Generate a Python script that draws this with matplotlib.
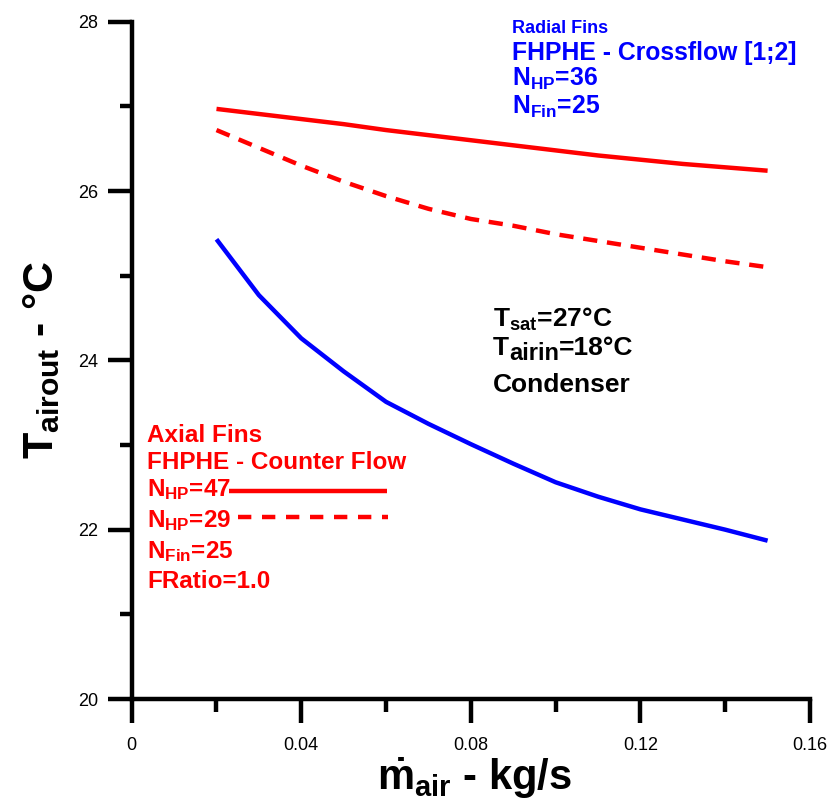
import matplotlib
matplotlib.use("Agg")
import matplotlib.pyplot as plt
from matplotlib.lines import Line2D
from matplotlib.ticker import MultipleLocator

plt.rcParams['font.family'] = ['Liberation Sans', 'DejaVu Sans']
plt.rcParams['mathtext.fontset'] = 'custom'
plt.rcParams['mathtext.rm'] = 'Liberation Sans:bold'
plt.rcParams['mathtext.it'] = 'Liberation Sans:bold'
plt.rcParams['mathtext.bf'] = 'Liberation Sans:bold'

# ---- data ----
m_air = [0.02, 0.03, 0.04, 0.05, 0.06, 0.07, 0.08, 0.09, 0.10, 0.11, 0.12, 0.13, 0.14, 0.15]
axial_nhp47 = [26.97, 26.91, 26.85, 26.79, 26.72, 26.66, 26.60, 26.54, 26.48, 26.42, 26.37, 26.32, 26.28, 26.24]
axial_nhp29 = [26.72, 26.51, 26.30, 26.11, 25.94, 25.79, 25.67, 25.59, 25.49, 25.41, 25.33, 25.25, 25.17, 25.10]
radial_nhp36 = [25.43, 24.77, 24.26, 23.87, 23.51, 23.25, 23.01, 22.78, 22.56, 22.39, 22.24, 22.12, 22.00, 21.87]

x_ticks = [0, 0.04, 0.08, 0.12, 0.16]
x_ticklabels = ['0', '0.04', '0.08', '0.12', '0.16']
y_ticks = [20, 22, 24, 26, 28]
y_ticklabels = ['20', '22', '24', '26', '28']

W, H = 830, 807
fig = plt.figure(figsize=(W / 100, H / 100), dpi=100)
ax = fig.add_axes([131.7 / W, (H - 699) / H, (810 - 131.7) / W, (699 - 21.7) / H])

RED = '#ff0000'
BLUE = '#0000ff'
lw = 3.2

ax.plot(m_air, axial_nhp47, color=RED, lw=lw, solid_capstyle='butt')
ax.plot(m_air, axial_nhp29, color=RED, lw=lw, dashes=(3.2, 2.2))
ax.plot(m_air, radial_nhp36, color=BLUE, lw=lw, solid_capstyle='butt')

ax.set_xlim(0, 0.16)
ax.set_ylim(20, 28)
ax.set_xticks(x_ticks)
ax.set_xticklabels(x_ticklabels)
ax.set_yticks(y_ticks)
ax.set_yticklabels(y_ticklabels)
ax.xaxis.set_minor_locator(MultipleLocator(0.02))
ax.yaxis.set_minor_locator(MultipleLocator(1))

for s in ['top', 'right']:
    ax.spines[s].set_visible(False)
for s in ['left', 'bottom']:
    ax.spines[s].set_linewidth(3.2)

ax.tick_params(which='major', direction='out', length=17, width=3.2, labelsize=13, color='black')
ax.tick_params(which='minor', direction='out', length=9, width=3.2)
ax.tick_params(axis='x', which='major', pad=10)
ax.tick_params(axis='y', which='major', pad=7)

ax.set_xlabel(r'$\dot{m}_{air}$ - kg/s', fontsize=30, fontweight='bold')
ax.set_ylabel(r'$T_{airout}$ - °C', fontsize=31, fontweight='bold')
ax.xaxis.set_label_coords((474 - 131.7) / 678.3, -(756 - 699) / 677.3)
ax.yaxis.set_label_coords(-(131.7 - 62) / 678.3, 0.5)


def ftext(x, y, s, **kw):
    fig.text(x / W, 1 - y / H, s, va='baseline', ha='left', fontweight='bold', **kw)


# blue annotations
ftext(512, 33, 'Radial Fins', color=BLUE, fontsize=13)
ftext(512, 60, 'FHPHE - Crossflow [1;2]', color=BLUE, fontsize=17.8)
ftext(512, 86, r'N$_{\mathrm{HP}}$=36', color=BLUE, fontsize=17.8)
ftext(512, 114, r'N$_{\mathrm{Fin}}$=25', color=BLUE, fontsize=17.8)

# black annotations
ftext(493, 327, r'T$_{\mathrm{sat}}$=27°C', color='black', fontsize=19)
t1 = fig.text(493 / W, 1 - 355 / H, 'T', va='baseline', ha='left', fontweight='bold', fontsize=19)
t2 = fig.text(0, 0, 'airin', fontweight='bold', fontsize=17)
fig.canvas.draw()
r = fig.canvas.get_renderer()
bb = t1.get_window_extent(r)
t2.set_position((bb.x1 / W, (H - 355 - 5) / H))
t2.set_va('baseline')
bb2 = t2.get_window_extent(r)
fig.text(bb2.x1 / W, 1 - 355 / H, '=18°C', va='baseline', ha='left', fontweight='bold', fontsize=19)
ftext(493, 392, 'Condenser', color='black', fontsize=19)

# red annotations
fs_red = 17.5
ftext(147, 442, 'Axial Fins', color=RED, fontsize=fs_red)
ftext(147, 469, 'FHPHE - Counter Flow', color=RED, fontsize=fs_red)
ftext(147, 496, r'N$_{\mathrm{HP}}$=47', color=RED, fontsize=fs_red)
ftext(147, 527, r'N$_{\mathrm{HP}}$=29', color=RED, fontsize=fs_red)
ftext(147, 558, r'N$_{\mathrm{Fin}}$=25', color=RED, fontsize=fs_red)
ftext(147, 588, 'FRatio=1.0', color=RED, fontsize=fs_red)

fig.add_artist(Line2D([229 / W, 387 / W], [1 - 490.5 / H, 1 - 490.5 / H], color=RED, lw=lw,
                      transform=fig.transFigure, solid_capstyle='butt'))
fig.add_artist(Line2D([238 / W, 388 / W], [1 - 516.5 / H, 1 - 516.5 / H], color=RED, lw=lw,
                      dashes=(3.0, 2.4), transform=fig.transFigure))

fig.savefig('out.png', dpi=100)
